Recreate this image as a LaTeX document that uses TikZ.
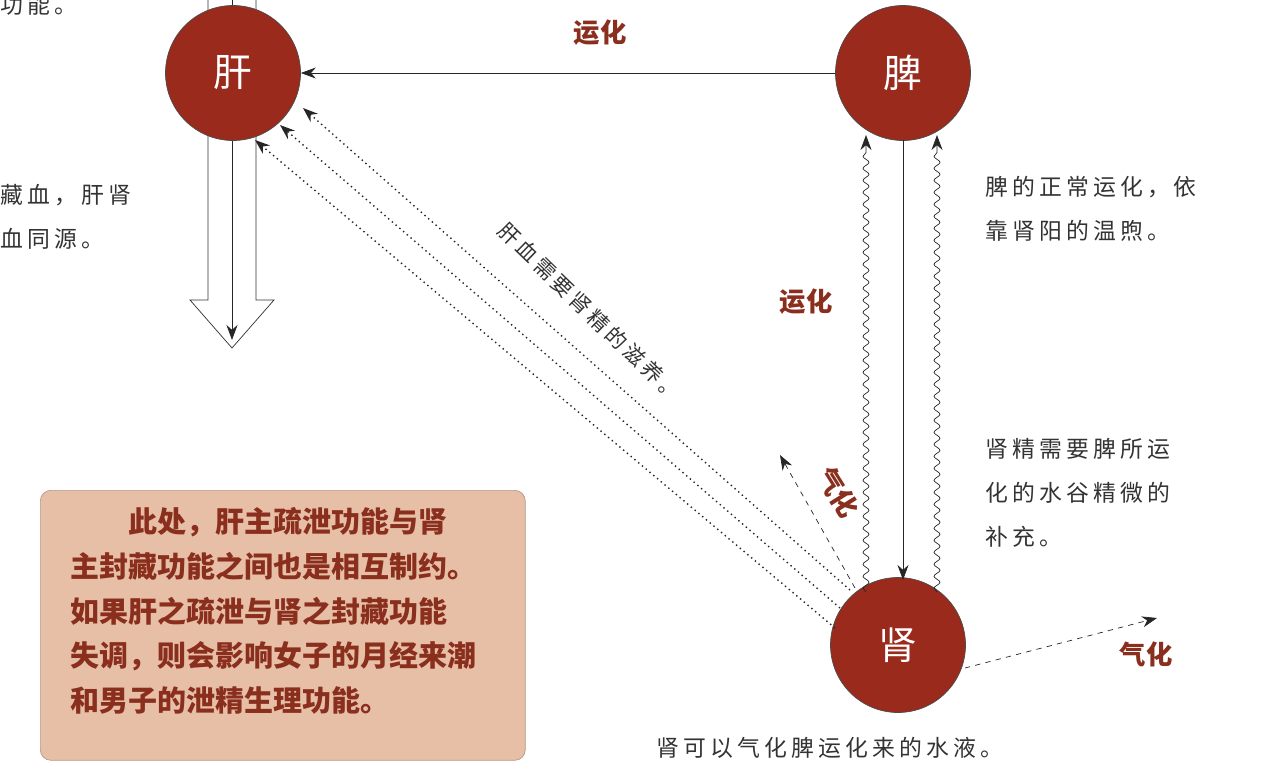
\documentclass[tikz,border=0pt]{standalone}
\usepackage{fontspec}
\setmainfont{Noto Sans CJK SC}
\newfontfamily\notefont[LetterSpace=18]{Noto Sans CJK SC}
\usetikzlibrary{arrows.meta,decorations.pathmorphing}
\definecolor{organ}{HTML}{9A2A1C}
\definecolor{lbl}{HTML}{8A2E1E}
\definecolor{boxfill}{HTML}{E6BFA6}
\tikzset{
  organnode/.style={circle,fill=organ,draw=black!70,minimum size=2.7cm,inner sep=0pt,font=\fontsize{22}{24}\selectfont,text=white},
  lab/.style={text=lbl,font=\fontsize{15}{17}\selectfont\bfseries},
  note/.style={text=black!80,font=\notefont\fontsize{13}{25}\selectfont,align=left,anchor=north west,inner sep=0pt},
  arr/.style={-{Stealth[length=3mm,width=2.2mm]},black!85},
  wavy/.style={arr,decorate,decoration={snake,segment length=2.4mm,amplitude=0.6mm,post length=3mm}},
  dotarr/.style={arr,dotted,thick},
  dasharr/.style={arr,dashed}
}
\begin{document}
\begin{tikzpicture}[x=0.02cm,y=-0.02cm]
\useasboundingbox (0,0) rectangle (1265,778);
% hollow arrow through liver
\draw[draw=black!80,fill=white] (208,-5) -- (208,300) -- (190,300) -- (232,348) -- (274,300) -- (256,300) -- (256,-5);
\coordinate (ltop) at (232,-5);
\coordinate (lend) at (232,340);
\draw[arr] (ltop) -- (lend);
\node[organnode] (gan) at (233,73) {肝};
\node[organnode] (pi) at (903,73) {脾};
\node[organnode] (shen) at (898,645) {肾};
% spleen -> liver
\draw[arr] (pi) -- (gan);
\node[lab] at (600,33) {运化};
% kidney <-> spleen
\coordinate (w1a) at (866,592); \coordinate (w1b) at (866,135);
\coordinate (w2a) at (937,592); \coordinate (w2b) at (937,135);
\coordinate (sa) at (903,140); \coordinate (sb) at (903,580);
\draw[wavy] (w1a) -- (w1b);
\draw[wavy] (w2a) -- (w2b);
\draw[arr] (sa) -- (sb);
\node[lab] at (806,302) {运化};
% dotted kidney -> liver
\coordinate (d1a) at (835,628); \coordinate (d1b) at (255,140);
\coordinate (d2a) at (840,608); \coordinate (d2b) at (280,125);
\coordinate (d3a) at (850,590); \coordinate (d3b) at (303,108);
\draw[dotarr] (d1a) -- (d1b);
\draw[dotarr] (d2a) -- (d2b);
\draw[dotarr] (d3a) -- (d3b);
\node[text=black!80,font=\notefont\fontsize{12}{14}\selectfont,rotate=-44] at (590,312) {肝血需要肾精的滋养。};
% qihua dashed
\coordinate (q1a) at (855,588); \coordinate (q1b) at (780,455);
\draw[dasharr] (q1a) -- (q1b);
\node[lab,rotate=-58] at (838,492) {气化};
\coordinate (q2a) at (965,668); \coordinate (q2b) at (1157,618);
\draw[dasharr] (q2a) -- (q2b);
\node[lab] at (1146,654) {气化};
% notes
\node[note] at (985,176) {脾的正常运化，依\\靠肾阳的温煦。};
\node[note] at (985,438) {肾精需要脾所运\\化的水谷精微的\\补充。};
\node[note,anchor=center] at (830,748) {肾可以气化脾运化来的水液。};
\node[note] at (0,-6) {功能。};
\node[note] at (0,184) {藏血，肝肾\\血同源。};
% box
\node[draw=boxfill!80!black,fill=boxfill,rounded corners=6pt,minimum width=9.7cm,minimum height=5.4cm,anchor=north west] (box) at (40,490) {};
\node[text=lbl,font=\fontsize{16.5}{25.5}\selectfont\bfseries,align=left,anchor=north west,inner sep=0pt] at (70,507)
{\hspace*{2em}此处，肝主疏泄功能与肾\\主封藏功能之间也是相互制约。\\如果肝之疏泄与肾之封藏功能\\失调，则会影响女子的月经来潮\\和男子的泄精生理功能。};
\end{tikzpicture}
\end{document}
